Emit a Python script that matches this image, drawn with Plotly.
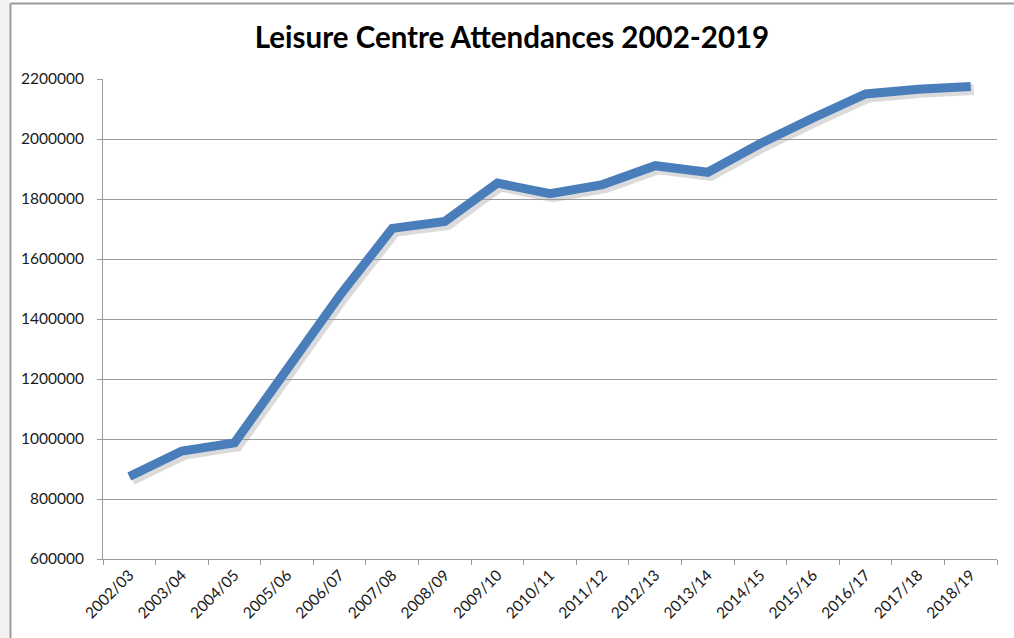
import plotly.graph_objects as go

years = ["2002/03", "2003/04", "2004/05", "2005/06", "2006/07", "2007/08", "2008/09",
         "2009/10", "2010/11", "2011/12", "2012/13", "2013/14", "2014/15", "2015/16",
         "2016/17", "2017/18", "2018/19"]
attendances = [875000, 960000, 987000, 1238000, 1478000, 1702000, 1725000,
               1853000, 1818000, 1848000, 1911000, 1889000, 1985000, 2070000,
               2150000, 2166000, 2175000]
y_ticks = [600000, 800000, 1000000, 1200000, 1400000, 1600000, 1800000, 2000000, 2200000]

W, H = 1014, 638
S = 3  # shadow offset in px
L, R, T, B = 103, 17 - S, 79, 79 - S
pw, ph = W - L - R, H - T - B
dx, dy = S / pw, S / ph

fig = go.Figure()
# soft shadow: same data on a hidden axis pair shifted by a few pixels
fig.add_trace(go.Scatter(x=years, y=attendances, mode="lines", xaxis="x", yaxis="y",
                         line=dict(color="rgba(0,0,0,0.14)", width=11), hoverinfo="skip",
                         showlegend=False))
# main line on the visible axis pair
fig.add_trace(go.Scatter(x=years, y=attendances, mode="lines", xaxis="x2", yaxis="y2",
                         line=dict(color="#4A7EBB", width=9), showlegend=False))

font_tick = dict(family="Lato", size=15.5, color="#1a1a1a")
grey = "#9a9a9a"
fig.update_layout(
    width=W, height=H,
    margin=dict(l=L, r=R, t=T, b=B),
    paper_bgcolor="white", plot_bgcolor="rgba(0,0,0,0)",
    title=dict(text="<b>Leisure Centre Attendances 2002-2019</b>", x=512 / W, xanchor="center",
               y=1 - 38 / H, yanchor="middle",
               font=dict(family="Lato", size=29.5, color="black")),
    xaxis=dict(type="category", range=[-0.5, 16.5], domain=[dx, 1], visible=False,
               anchor="y", automargin=False),
    yaxis=dict(range=[600000, 2200000], domain=[0, 1 - dy], visible=False,
               anchor="x", automargin=False),
    xaxis2=dict(type="category", range=[-0.5, 16.5], domain=[0, 1 - dx], showgrid=False,
                showline=True, linecolor=grey, linewidth=1, ticks="outside", ticklen=5,
                tickcolor=grey, tickson="boundaries", tickangle=-45,
                tickfont=font_tick, anchor="y2", automargin=False),
    yaxis2=dict(range=[600000, 2200000], domain=[dy, 1], tickvals=y_ticks,
                ticktext=[str(v) for v in y_ticks],
                showgrid=True, gridcolor=grey, gridwidth=1, showline=True,
                linecolor=grey, linewidth=1, ticks="outside", ticklen=5,
                tickcolor=grey, tickfont=font_tick, zeroline=False,
                ticklabelstandoff=10, anchor="x2", automargin=False),
    shapes=[
        dict(type="rect", xref="paper", yref="paper", x0=-L / pw, x1=(10 - L) / pw,
             y0=-B / ph, y1=1 + T / ph, fillcolor="#f2f2f2", line=dict(width=0), layer="below"),
        dict(type="line", xref="paper", yref="paper", x0=(10.5 - L) / pw, x1=(10.5 - L) / pw,
             y0=-B / ph, y1=1 + (T - 3.5) / ph, line=dict(color=grey, width=2)),
        dict(type="line", xref="paper", yref="paper", x0=(10.5 - L) / pw, x1=1 + R / pw,
             y0=1 + (T - 3.5) / ph, y1=1 + (T - 3.5) / ph, line=dict(color=grey, width=2)),
    ],
)
fig.write_html("out.html", config={"displayModeBar": False},
               post_script="document.body.style.margin='0';document.body.style.overflow='hidden';")
